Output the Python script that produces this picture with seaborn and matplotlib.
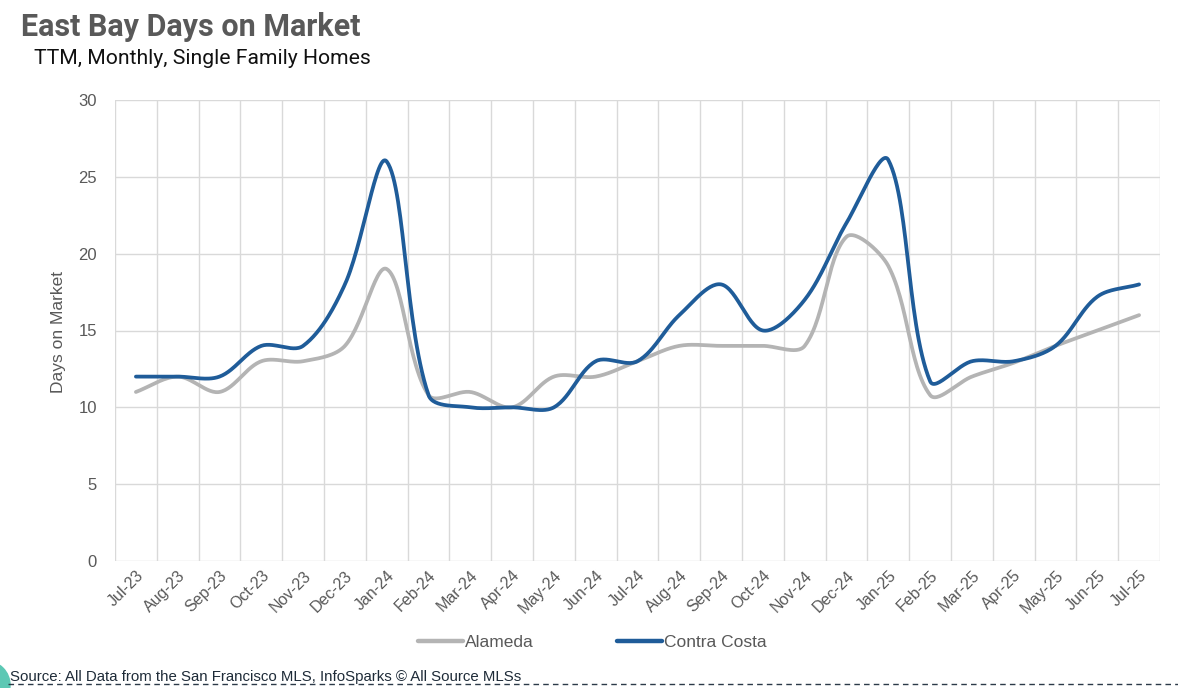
import numpy as np
import pandas as pd
import matplotlib
matplotlib.use("Agg")
import matplotlib.pyplot as plt
import seaborn as sns
from matplotlib.lines import Line2D
from matplotlib.patches import Circle

# Chart data
months = ["Jul-23", "Aug-23", "Sep-23", "Oct-23", "Nov-23", "Dec-23", "Jan-24",
          "Feb-24", "Mar-24", "Apr-24", "May-24", "Jun-24", "Jul-24", "Aug-24",
          "Sep-24", "Oct-24", "Nov-24", "Dec-24", "Jan-25", "Feb-25", "Mar-25",
          "Apr-25", "May-25", "Jun-25", "Jul-25"]
alameda = [11, 12, 11, 13, 13, 14, 19, 10.8, 11, 10, 12, 12, 13, 14,
           14, 14, 14, 21.1, 19.2, 10.8, 12, 12.9, 14, 15, 16]
contra_costa = [12, 12, 12, 14, 14, 18, 26, 10.8, 10, 10, 10, 13, 13, 16,
                18, 15, 17, 22, 26.1, 11.7, 13, 13, 14, 17.2, 18]
series_names = ["Alameda", "Contra Costa"]
colors = {"Alameda": "#b4b4b4", "Contra Costa": "#1f5c99"}
y_ticks = [0, 5, 10, 15, 20, 25, 30]

TEXT_GRAY = "#595959"
GRID = "#d9d9d9"
NARROW = ["Liberation Sans Narrow", "Liberation Sans", "DejaVu Sans"]

# pixel size of one x category / one y unit, used to shape the smoothing
PX_X, PX_Y = 41.8, 15.37


def smooth(values, steps=30):
    """Bezier smoothing through the points, roughly like Excel's smoothed line."""
    v = np.asarray(values, dtype=float)
    n = len(v)
    pts = np.column_stack([np.arange(n) * PX_X, v * PX_Y])
    ext = np.vstack([pts[0], pts, pts[-1]])
    t = np.linspace(0, 1, steps, endpoint=False)[:, None]
    out = []
    for i in range(n - 1):
        p0, p1, p2, p3 = ext[i], ext[i + 1], ext[i + 2], ext[i + 3]
        d01 = np.linalg.norm(p1 - p0)
        d12 = np.linalg.norm(p2 - p1)
        d23 = np.linalg.norm(p3 - p2)
        c1 = p1 + (p2 - p0) / 3 * (d12 / (d01 + d12) if d01 + d12 else 0)
        c2 = p2 - (p3 - p1) / 3 * (d12 / (d12 + d23) if d12 + d23 else 0)
        seg = ((1 - t) ** 3 * p1 + 3 * (1 - t) ** 2 * t * c1
               + 3 * (1 - t) * t ** 2 * c2 + t ** 3 * p2)
        out.append(seg)
    out.append(pts[-1:])
    out = np.vstack(out)
    return out[:, 0] / PX_X, out[:, 1] / PX_Y


frames = []
for name, vals in zip(series_names, [alameda, contra_costa]):
    sx, sy = smooth(vals)
    frames.append(pd.DataFrame({"x": sx, "days": sy, "series": name}))
df = pd.concat(frames, ignore_index=True)

sns.set_theme(style="white")
plt.rcParams["font.family"] = ["Liberation Sans", "DejaVu Sans"]

W, H = 1178, 688
fig = plt.figure(figsize=(W / 100, H / 100), dpi=100)
ax = fig.add_axes([115 / W, 1 - 561 / H, 1045 / W, 461 / H])

sns.lineplot(data=df, x="x", y="days", hue="series", palette=colors,
             hue_order=series_names, estimator=None, sort=False,
             linewidth=2.7, legend=False, ax=ax)

ax.set_xlim(-0.5, len(months) - 0.5)
ax.set_ylim(0, 30)
ax.set_yticks(y_ticks)
ax.set_yticklabels([str(v) for v in y_ticks], color=TEXT_GRAY, fontsize=12)
ax.set_xticks(range(len(months)))
ax.set_xticklabels(months, rotation=45, ha="right", rotation_mode="anchor",
                   color=TEXT_GRAY, fontsize=11.5, family=NARROW)
ax.set_xticks(np.arange(-0.5, len(months), 1), minor=True)
ax.tick_params(axis="both", which="both", length=0)
ax.tick_params(axis="y", pad=13)
ax.tick_params(axis="x", pad=5)
ax.grid(which="minor", axis="x", color=GRID, linewidth=1)
ax.grid(which="major", axis="y", color=GRID, linewidth=1)
ax.grid(which="major", axis="x", visible=False)
for s in ax.spines.values():
    s.set_visible(False)
ax.set_xlabel("")
ax.set_ylabel("")

fig.text(58 / W, 1 - 332 / H, "Days on Market", rotation=90, ha="center",
         va="center", color=TEXT_GRAY, fontsize=12.5)

# titles
fig.text(21 / W, 1 - 27 / H, "East Bay Days on Market", fontsize=22,
         fontweight="bold", color=TEXT_GRAY, va="center", family=["Roboto", "DejaVu Sans"])
fig.text(34 / W, 1 - 58 / H, "TTM, Monthly, Single Family Homes", fontsize=15.2,
         color="#111111", va="center", family=["Roboto", "DejaVu Sans"])

# legend
handles = [Line2D([0], [0], color=colors[n], linewidth=3.2) for n in series_names]
fig.legend(handles, series_names, loc="center", bbox_to_anchor=(592 / W, 1 - 642 / H),
           ncol=2, frameon=False, handlelength=2.6, handletextpad=0.1,
           columnspacing=4.8, prop={"family": NARROW, "size": 12.5},
           labelcolor=TEXT_GRAY)

# source line with dashed rule
fig.text(10 / W, 1 - 677 / H,
         "Source: All Data from the San Francisco MLS, InfoSparks \u00a9 All Source MLSs",
         fontsize=10.8, color="#1e2b38", va="center", family=NARROW)
fig.add_artist(Line2D([8 / W, 1], [1 - 684 / H, 1 - 684 / H], transform=fig.transFigure,
                      color="#2c3a48", linewidth=1, linestyle=(0, (4, 3))))
fig.add_artist(Circle((-14, 3), 24, transform=None, color="#5cc8b4", zorder=0))

fig.savefig("out.png", dpi=100, facecolor="white")
